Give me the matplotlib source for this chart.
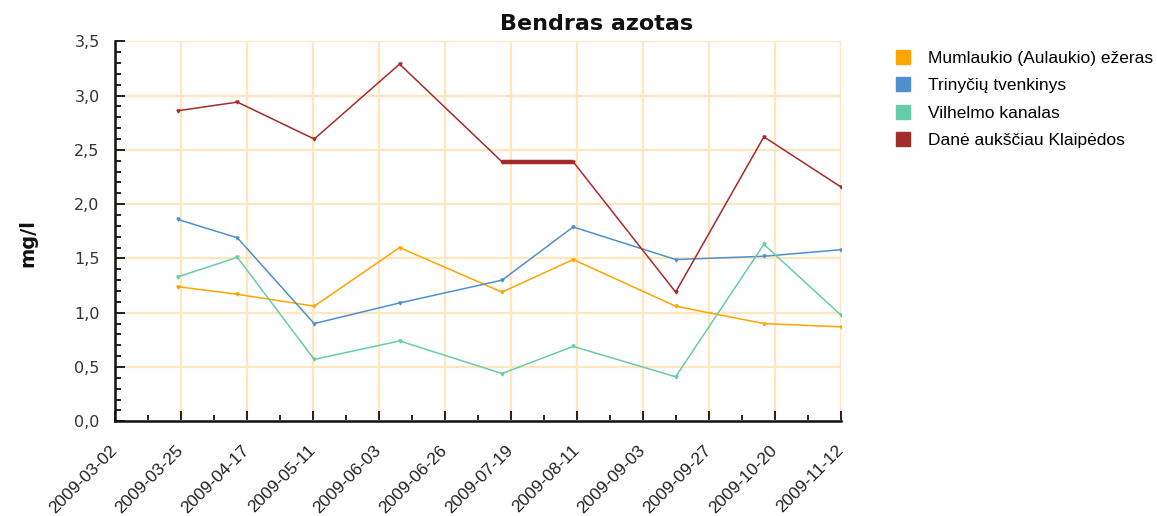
import numpy as np
import matplotlib
matplotlib.use("Agg")
import matplotlib.pyplot as plt
import matplotlib.dates as mdates
from matplotlib.lines import Line2D
from datetime import datetime

title = "Bendras azotas"
ylabel = "mg/l"

dates = ["2009-03-24", "2009-04-14", "2009-05-11", "2009-06-10", "2009-07-16",
         "2009-08-10", "2009-09-15", "2009-10-16", "2009-11-12"]

series_names = ["Mumlaukio (Aulaukio) ežeras", "Trinyčių tvenkinys",
                "Vilhelmo kanalas", "Danė aukščiau Klaipėdos"]
mumlaukio = [1.24, 1.17, 1.06, 1.60, 1.19, 1.49, 1.06, 0.90, 0.87]
trinyciu = [1.86, 1.69, 0.90, 1.09, 1.30, 1.79, 1.49, 1.52, 1.58]
vilhelmo = [1.33, 1.51, 0.57, 0.74, 0.44, 0.69, 0.41, 1.63, 0.98]
dane = [2.86, 2.94, 2.60, 3.29, 2.39, 2.39, 1.19, 2.62, 2.16]
colors = ["#FFA500", "#4F8FD0", "#66CDAA", "#A52A2A"]

x_start = "2009-03-02"
x_end = "2009-11-12"
xtick_labels = ["2009-03-02", "2009-03-25", "2009-04-17", "2009-05-11", "2009-06-03",
                "2009-06-26", "2009-07-19", "2009-08-11", "2009-09-03", "2009-09-27",
                "2009-10-20", "2009-11-12"]
ytick_values = [0.0, 0.5, 1.0, 1.5, 2.0, 2.5, 3.0, 3.5]
ytick_labels = ["0,0", "0,5", "1,0", "1,5", "2,0", "2,5", "3,0", "3,5"]

W, H = 1157, 516
fig = plt.figure(figsize=(W / 100, H / 100), dpi=100)
ax = fig.add_axes([115 / W, 1 - 421.3 / H, (840.7 - 115) / W, (421.3 - 41.3) / H])

xd = mdates.date2num([datetime.strptime(d, "%Y-%m-%d") for d in dates])
x0 = mdates.date2num(datetime.strptime(x_start, "%Y-%m-%d"))
x1 = mdates.date2num(datetime.strptime(x_end, "%Y-%m-%d"))

all_vals = [mumlaukio, trinyciu, vilhelmo, dane]
for vals, c in zip(all_vals, colors):
    ax.plot(xd, vals, color=c, lw=1.1, marker="v", markersize=2.2, zorder=3,
            solid_joinstyle="miter")
    # consecutive identical values drawn heavier (as in the source chart)
    v = np.array(vals)
    for i in range(len(v) - 1):
        if v[i] == v[i + 1]:
            ax.plot(xd[i:i + 2], v[i:i + 2], color=c, lw=3.2, zorder=3,
                    solid_capstyle="butt")

ax.set_xlim(x0, x1)
ax.set_ylim(0, 3.5)

major_x = np.linspace(x0, x1, len(xtick_labels))
minor_x = np.linspace(x0, x1, 2 * len(xtick_labels) - 1)
ax.set_xticks(major_x)
ax.set_xticks(minor_x, minor=True)
ax.set_xticklabels(xtick_labels, rotation=45, ha="right", va="center",
                   rotation_mode="anchor",
                   fontsize=12.5, family="Liberation Sans", color="#222222")
ax.set_yticks(ytick_values)
ax.set_yticks(np.arange(0, 3.5001, 0.1), minor=True)
ax.set_yticklabels(ytick_labels, fontsize=11.5, family="DejaVu Sans", color="#333333")

ax.tick_params(axis="both", which="major", direction="in", length=7, width=1.3,
               color="#111111")
ax.tick_params(axis="both", which="minor", direction="in", length=4, width=1.3,
               color="#111111")
ax.tick_params(axis="x", which="major", pad=19)
ax.tick_params(axis="y", which="major", pad=11)

ax.grid(True, which="major", color="#FFE6BF", lw=1.6, zorder=0)
ax.set_axisbelow(True)
for s in ["top", "right"]:
    ax.spines[s].set_visible(False)
for s in ["left", "bottom"]:
    ax.spines[s].set_linewidth(1.8)
    ax.spines[s].set_color("#111111")
    ax.spines[s].set_zorder(4)

fig.text(597 / W, 1 - 24 / H, title, ha="center", va="center", fontsize=16,
         fontweight="bold", family="DejaVu Sans", color="#111111")
fig.text(28 / W, 1 - 243 / H, ylabel, ha="center", va="center", rotation=90,
         fontsize=14, fontweight="bold", family="DejaVu Sans", color="#111111")

handles = [Line2D([], [], marker="s", ls="", color=c, markersize=9.5) for c in colors]
fig.legend(handles, series_names, loc="upper left",
           bbox_to_anchor=(894 / W, 1 - 51 / H), frameon=False,
           prop={"family": "Liberation Sans", "size": 12.5},
           handlelength=1.0, handletextpad=0.95, labelspacing=0.7,
           borderaxespad=0, borderpad=0)

fig.savefig("out.png", dpi=100)
